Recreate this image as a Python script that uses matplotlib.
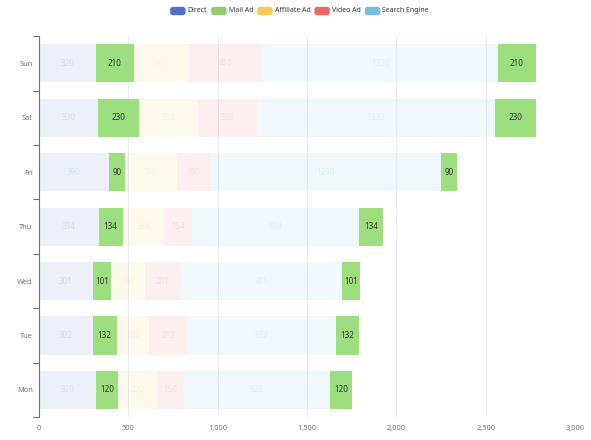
import numpy as np
from matplotlib import pyplot as plt
from matplotlib.patches import FancyBboxPatch

plt.rcParams['font.family'] = ['Noto Sans', 'DejaVu Sans']

days = ['Mon', 'Tue', 'Wed', 'Thu', 'Fri', 'Sat', 'Sun']
direct = [320, 302, 301, 334, 390, 330, 320]
mail_ad = [120, 132, 101, 134, 90, 230, 210]
affiliate_ad = [220, 182, 191, 234, 290, 330, 310]
video_ad = [150, 212, 201, 154, 190, 330, 410]
search_engine = [820, 832, 901, 934, 1290, 1330, 1320]

series_names = ['Direct', 'Mail Ad', 'Affiliate Ad', 'Video Ad', 'Search Engine']
colors = ['#5470c6', '#91cc75', '#fac858', '#ee6666', '#73c0de']
mail_hi = '#9ddf7f'

fig = plt.figure(figsize=(5.91, 4.4), dpi=100)
ax = fig.add_axes([0.066, 0.052, 0.907, 0.866])

y = np.arange(len(days))
h = 0.7
left = np.zeros(len(days))

# stack order: direct, mail, affiliate, video, search, then mail again on top
stack = [(direct, colors[0], False), (mail_ad, mail_hi, True),
         (affiliate_ad, colors[2], False), (video_ad, colors[3], False),
         (search_engine, colors[4], False), (mail_ad, mail_hi, True)]

for vals, col, focus in stack:
    vals = np.array(vals)
    if focus:
        ax.barh(y, vals, height=h, left=left, color=col, zorder=3)
    else:
        ax.barh(y, vals, height=h, left=left, color=col, alpha=0.1, zorder=3)
    for yi, l, v in zip(y, left, vals):
        if focus:
            ax.text(l + v / 2, yi, str(v), ha='center', va='center', fontsize=5.8,
                    color='#333333', zorder=4)
        else:
            ax.text(l + v / 2, yi, str(v), ha='center', va='center', fontsize=5.8,
                    color=col, alpha=0.15, zorder=4)
    left = left + vals

ax.set_xlim(0, 3000)
ax.set_ylim(-0.5, len(days) - 0.5)
ax.set_xticks([0, 500, 1000, 1500, 2000, 2500, 3000])
ax.set_xticklabels(['0', '500', '1,000', '1,500', '2,000', '2,500', '3,000'])
ax.set_yticks(y)
ax.set_yticklabels(days)
ax.set_yticks(np.arange(-0.5, len(days)), minor=True)
ax.tick_params(axis='x', length=0, labelsize=5.3, colors='#6e7079', pad=6)
ax.tick_params(axis='y', which='major', length=0, labelsize=5.3, colors='#6e7079', pad=4.5)
ax.tick_params(axis='y', which='minor', length=4, color='#6e7079', width=0.8)
ax.grid(axis='x', color='#e8ecf4', lw=0.7, zorder=0)
for s in ['top', 'right', 'bottom']:
    ax.spines[s].set_visible(False)
ax.spines['left'].set_color('#6e7079')
ax.spines['left'].set_linewidth(0.8)

# legend, centred at the top
fig.canvas.draw()
W = fig.bbox.width
icon_w, icon_h, gap_icon, gap_item = 14 / W, 7 / 440, 3 / W, 4.5 / W
texts = [fig.text(0, 0.975, n, fontsize=5, color='#333333', va='center') for n in series_names]
fig.canvas.draw()
widths = [t.get_window_extent().width / W for t in texts]
total = sum(icon_w + gap_icon + w for w in widths) + gap_item * (len(widths) - 1)
x0 = 300 / W - total / 2
for t, w, col in zip(texts, widths, colors):
    fig.patches.append(FancyBboxPatch((x0, 0.975 - icon_h / 2), icon_w, icon_h,
                                      boxstyle='round,pad=0,rounding_size=0.004',
                                      transform=fig.transFigure, color=col))
    t.set_x(x0 + icon_w + gap_icon)
    x0 += icon_w + gap_icon + w + gap_item

fig.savefig('out.png', dpi=100)
